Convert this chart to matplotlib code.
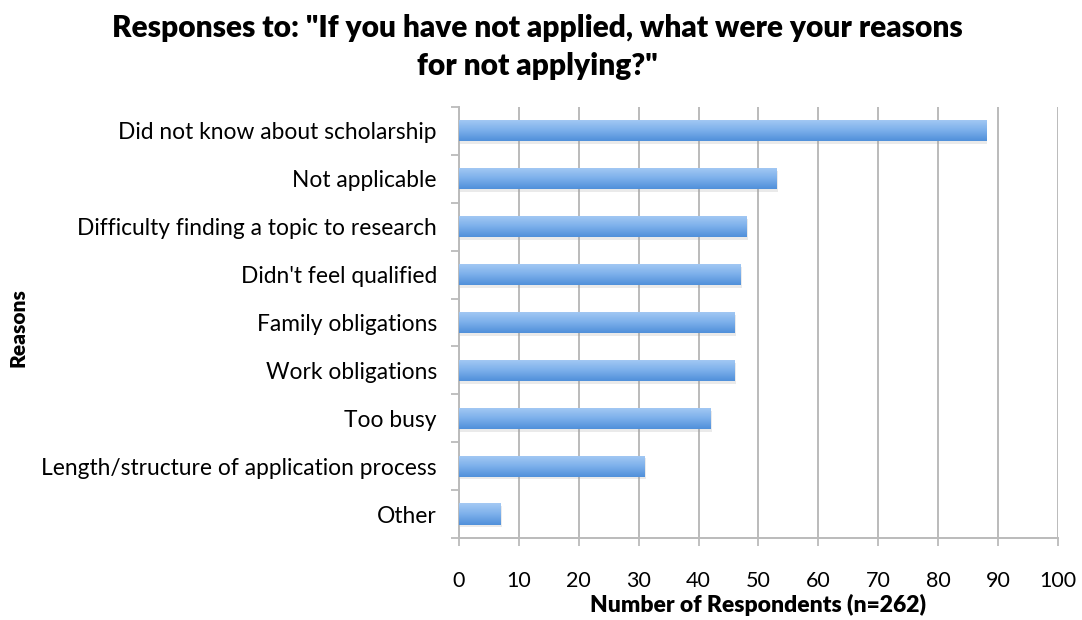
import numpy as np
import matplotlib.pyplot as plt
import matplotlib.patheffects as pe
from matplotlib.colors import LinearSegmentedColormap

reasons = [
    "Did not know about scholarship",
    "Not applicable",
    "Difficulty finding a topic to research",
    "Didn't feel qualified",
    "Family obligations",
    "Work obligations",
    "Too busy",
    "Length/structure of application process",
    "Other",
]
counts = [88, 53, 48, 47, 46, 46, 42, 31, 7]
x_ticks = list(range(0, 101, 10))

plt.rcParams['font.family'] = ['Lato', 'DejaVu Sans']

fig = plt.figure(figsize=(10.82, 6.20), dpi=100)
ax = fig.add_axes([0.4242, 0.1323, 0.5536, 0.6951])

grid_c = '#BBBBBB'
ypos = np.arange(len(reasons))
bars = ax.barh(ypos, counts, height=0.44, color='#6FA6E6', edgecolor='none',
               zorder=3)

# vertical gradient on each bar, light on top, darker underneath
grad_cmap = LinearSegmentedColormap.from_list('barfill', ['#A5CAF4', '#7DB0EB', '#5090DA'])
grad = np.linspace(0, 1, 64).reshape(-1, 1)
for b in bars:
    b.set_path_effects([pe.SimplePatchShadow(offset=(0.8, -2), shadow_rgbFace='#999999', alpha=0.2),
                        pe.Normal()])
    x0, y0 = b.get_x(), b.get_y()
    w, h = b.get_width(), b.get_height()
    im = ax.imshow(grad, cmap=grad_cmap, aspect='auto', interpolation='bicubic',
                   extent=(x0, x0 + w, y0, y0 + h), origin='lower', zorder=4)
    im.set_clip_path(b)

ax.set_xlim(0, 100)
ax.set_ylim(len(reasons) - 0.5, -0.5)
ax.set_xticks(x_ticks)
ax.set_xticklabels([str(t) for t in x_ticks], fontsize=15.5)
ax.set_yticks(ypos)
ax.set_yticklabels(reasons, fontsize=16.4)
ax.set_yticks(np.arange(-0.5, len(reasons) + 0.5, 1), minor=True)
ax.tick_params(axis='y', which='major', length=0, pad=16)
ax.tick_params(axis='y', which='minor', length=6, width=1.3, color=grid_c)
ax.tick_params(axis='x', length=6, width=1.3, color=grid_c, pad=18)

ax.grid(axis='x', color=grid_c, linewidth=1.4, zorder=0)
ax.set_axisbelow(True)
for side in ('top', 'right'):
    ax.spines[side].set_visible(False)
for side in ('left', 'bottom'):
    ax.spines[side].set_color(grid_c)
    ax.spines[side].set_linewidth(1.4)

ax.set_xlabel('Number of Respondents (n=262)', fontsize=16.5, fontweight='heavy', labelpad=2)
fig.text(0.017, 0.472, 'Reasons', rotation=90, fontsize=15, fontweight='heavy',
         ha='center', va='center')

fig.suptitle('Responses to: "If you have not applied, what were your reasons\nfor not applying?"',
             x=0.497, y=0.978, fontsize=21.5, fontweight='heavy', linespacing=1.45)

fig.savefig('out.png', dpi=100)
